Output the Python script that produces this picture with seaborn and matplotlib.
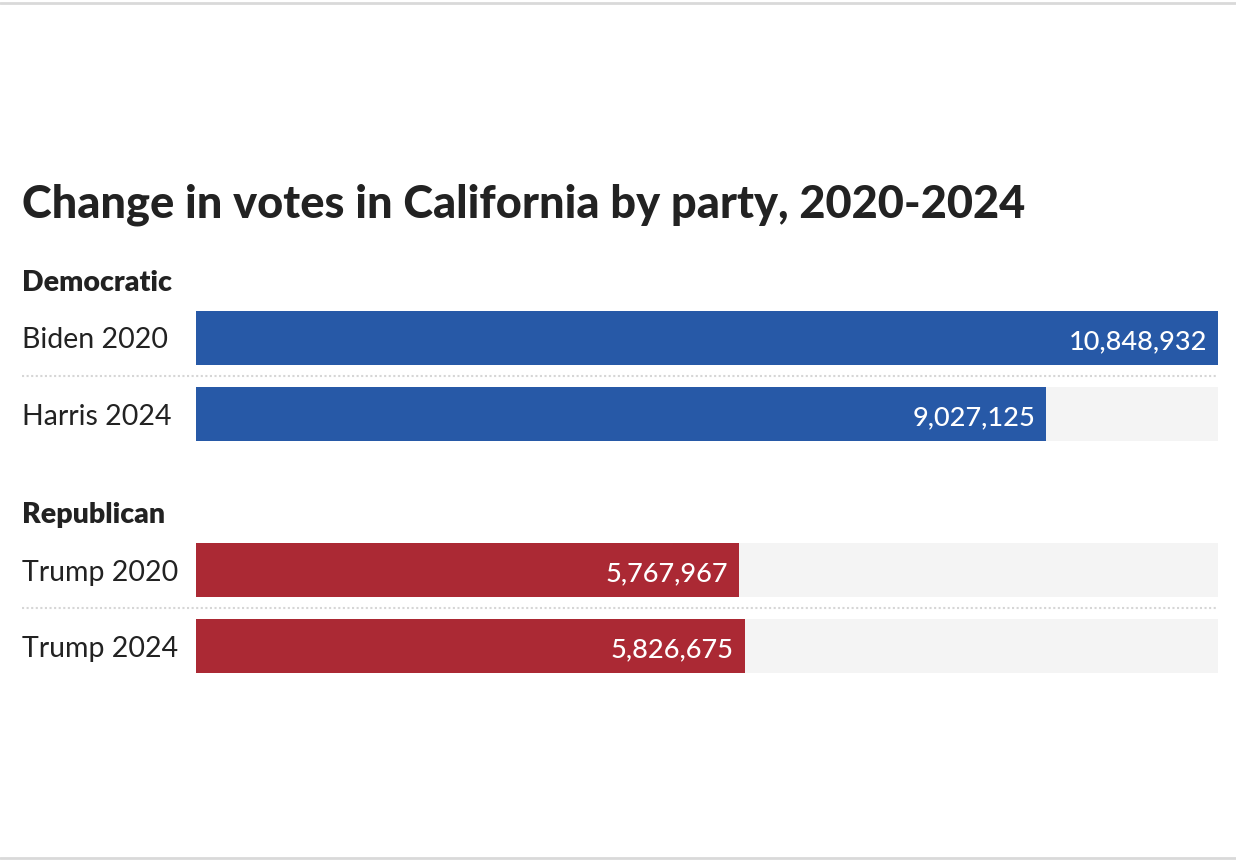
import pandas as pd
import matplotlib.pyplot as plt
import seaborn as sns
from matplotlib.lines import Line2D

# data
candidates = ["Biden 2020", "Harris 2024", "Trump 2020", "Trump 2024"]
parties = ["Democratic", "Democratic", "Republican", "Republican"]
votes = [10848932, 9027125, 5767967, 5826675]
party_colors = {"Democratic": "#2759a7", "Republican": "#ab2934"}

# layout (pixel rows, figure is 1236x860 at dpi 100)
W, H = 1236, 860
row_y = [337.5, 413.5, 569.5, 645.5]
header_y = {"Democratic": 283, "Republican": 515}
bar_h = 54
bar_left, bar_right = 196, 1218

df = pd.DataFrame({"candidate": candidates, "party": parties,
                   "votes": votes, "y": row_y})
full = max(votes)
df["track"] = full

sns.set_theme(style="white")
plt.rcParams["font.family"] = ["Lato", "DejaVu Sans"]

fig = plt.figure(figsize=(W / 100, H / 100), dpi=100)
ax = fig.add_axes([bar_left / W, 0, (bar_right - bar_left) / W, 1])

width = bar_h / (row_y[1] - row_y[0])
sns.barplot(data=df, x="track", y="y", orient="h", native_scale=True,
            color="#f4f4f4", width=width, linewidth=0, ax=ax)
sns.barplot(data=df, x="votes", y="y", hue="party", orient="h",
            native_scale=True, palette=party_colors, width=width,
            dodge=False, legend=False, linewidth=0, ax=ax, saturation=1)

ax.set_xlim(0, full)
ax.set_ylim(H, 0)
ax.set_axis_off()

# value labels inside bars
for _, r in df.iterrows():
    ax.text(r["votes"] - full * 11 / (bar_right - bar_left), r["y"] + 4,
            f"{r['votes']:,}", ha="right", va="center", color="white",
            fontsize=19.5, fontweight="medium")

def fy(py):
    return 1 - py / H

# row labels
for _, r in df.iterrows():
    fig.text(22 / W, fy(r["y"] + 3), r["candidate"], ha="left", va="center",
             fontsize=20.5, color="#222222")

# group headers
for party, py in header_y.items():
    fig.text(22 / W, fy(py), party, ha="left", va="center",
             fontsize=20.5, fontweight="heavy", color="#222222")

# dotted separators within each group
for py in [376, 608]:
    fig.add_artist(Line2D([22 / W, bar_right / W], [fy(py), fy(py)],
                          transform=fig.transFigure, color="#d6d6d6",
                          linestyle=(0, (1, 1.2)), linewidth=1.5))

# title
fig.text(22 / W, fy(205), "Change in votes in California by party, 2020-2024",
         ha="left", va="center", fontsize=32.5, fontweight="black",
         color="#222222")

# top and bottom rules
for py in [3, 858]:
    fig.add_artist(Line2D([0, 1], [fy(py), fy(py)], transform=fig.transFigure,
                          color="#d9d9d9", linewidth=2))

fig.savefig("out.png", dpi=100, facecolor="white")
